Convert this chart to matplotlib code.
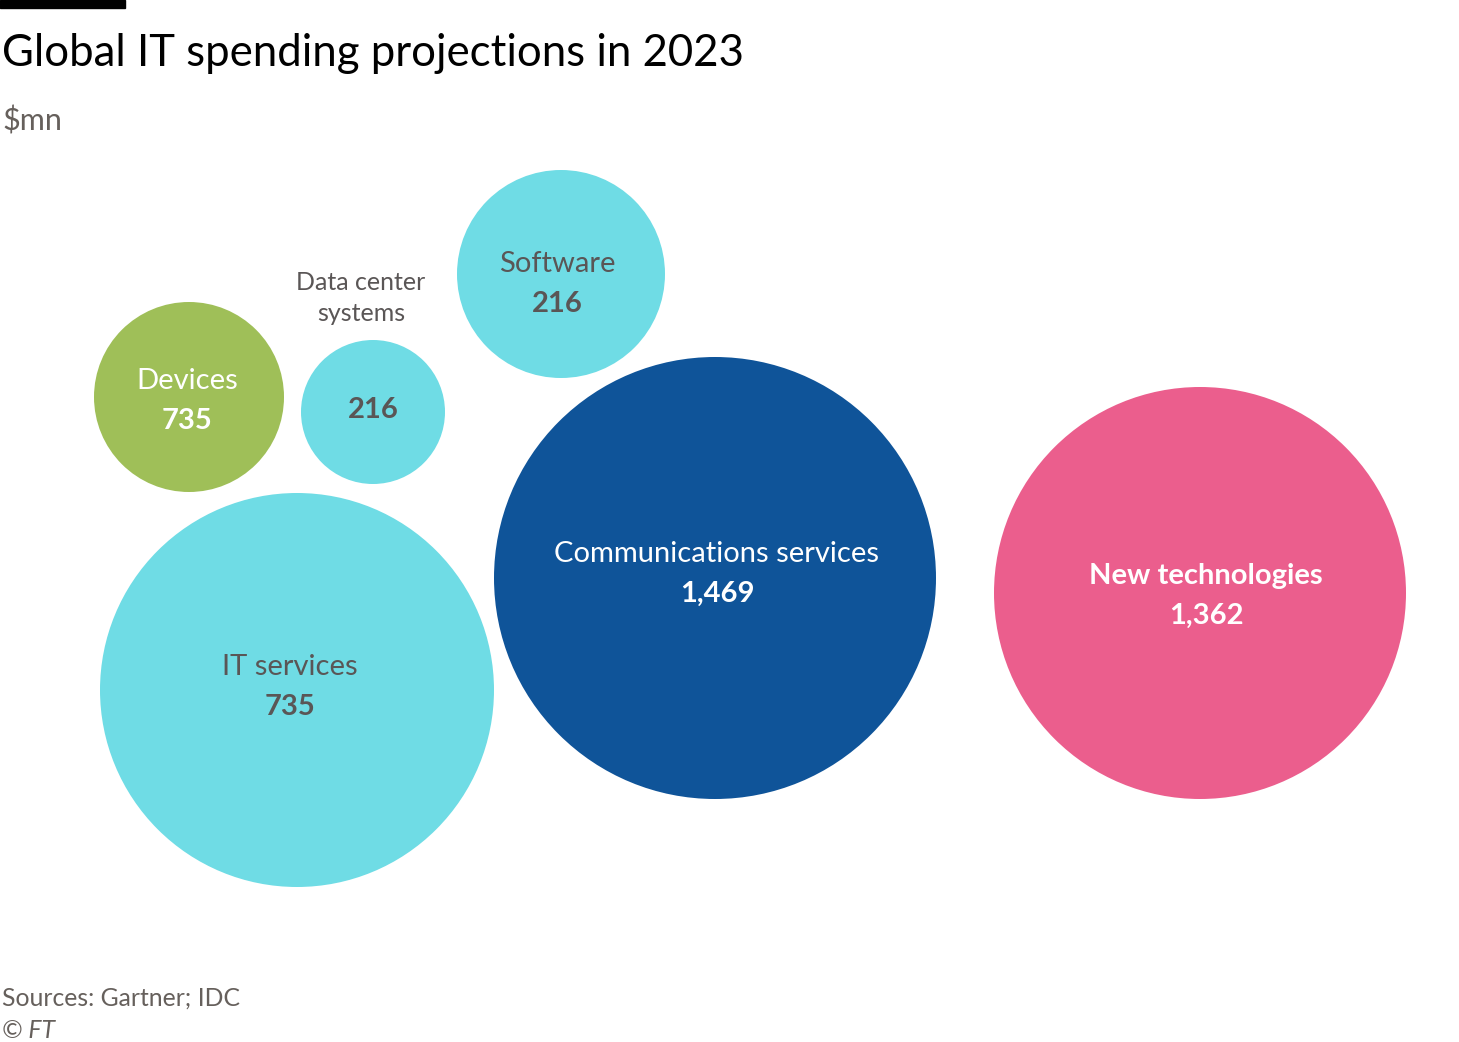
import matplotlib.pyplot as plt
from matplotlib.patches import Circle, Rectangle

# data
categories = ['Devices', 'Data center\nsystems', 'Software', 'IT services',
              'Communications services', 'New technologies']
values = [735, 216, 216, 735, 1469, 1362]

# bubble layout (pixels)
centers = [(189, 397), (373, 412), (561, 274), (297, 690), (715, 578), (1200, 593)]
radii = [95, 72, 104, 197, 221, 206]
colors = ['#9fbf58', '#6fdce5', '#6fdce5', '#6fdce5', '#0f5499', '#eb5e8d']
text_colors = ['white', '#5a5656', '#5a5656', '#5a5656', 'white', 'white']
name_bold = [False, False, False, False, False, True]
# label offsets from bubble centre (dx, dy of name)
label_shift = [(-2, -16), (0, 0), (-4, -10), (-7, -23), (2, -24), (6, -17)]

plt.rcParams['font.family'] = ['Lato', 'DejaVu Sans']

fig = plt.figure(figsize=(14.59, 10.42), dpi=100)
ax = fig.add_axes([0, 0, 1, 1])
ax.set_xlim(0, 1459)
ax.set_ylim(1042, 0)
ax.set_aspect('equal')
ax.axis('off')

ax.add_patch(Rectangle((0, 0), 125, 8, color='black'))

for i in range(len(categories)):
    cx, cy = centers[i]
    ax.add_patch(Circle((cx, cy), radii[i], color=colors[i], lw=0))
    val = f'{values[i]:,}'
    if i == 1:
        # label sits above the small bubble
        ax.text(cx - 12, 298, categories[i], ha='center', va='center',
                fontsize=18, color='#5a5656', linespacing=1.45)
        ax.text(cx, cy - 2, val, ha='center', va='center', fontsize=21,
                fontweight='bold', color=text_colors[i])
    else:
        dx, dy = label_shift[i]
        ax.text(cx + dx, cy + dy, categories[i], ha='center', va='center', fontsize=21,
                fontweight='bold' if name_bold[i] else 'normal', color=text_colors[i])
        ax.text(cx + dx, cy + dy + 40, val, ha='center', va='center', fontsize=21,
                fontweight='bold', color=text_colors[i])

ax.text(2, 53, 'Global IT spending projections in 2023', ha='left', va='center',
        fontsize=31.5, color='black')
ax.text(2, 121, '$mn', ha='left', va='center', fontsize=22, color='#66605c')
ax.text(2, 998, 'Sources: Gartner; IDC', ha='left', va='center', fontsize=17.8,
        color='#66605c')
ax.text(2, 1031, '© FT', ha='left', va='center', fontsize=17.8, color='#66605c',
        style='italic')

fig.savefig('out.png', dpi=100, facecolor='white')
